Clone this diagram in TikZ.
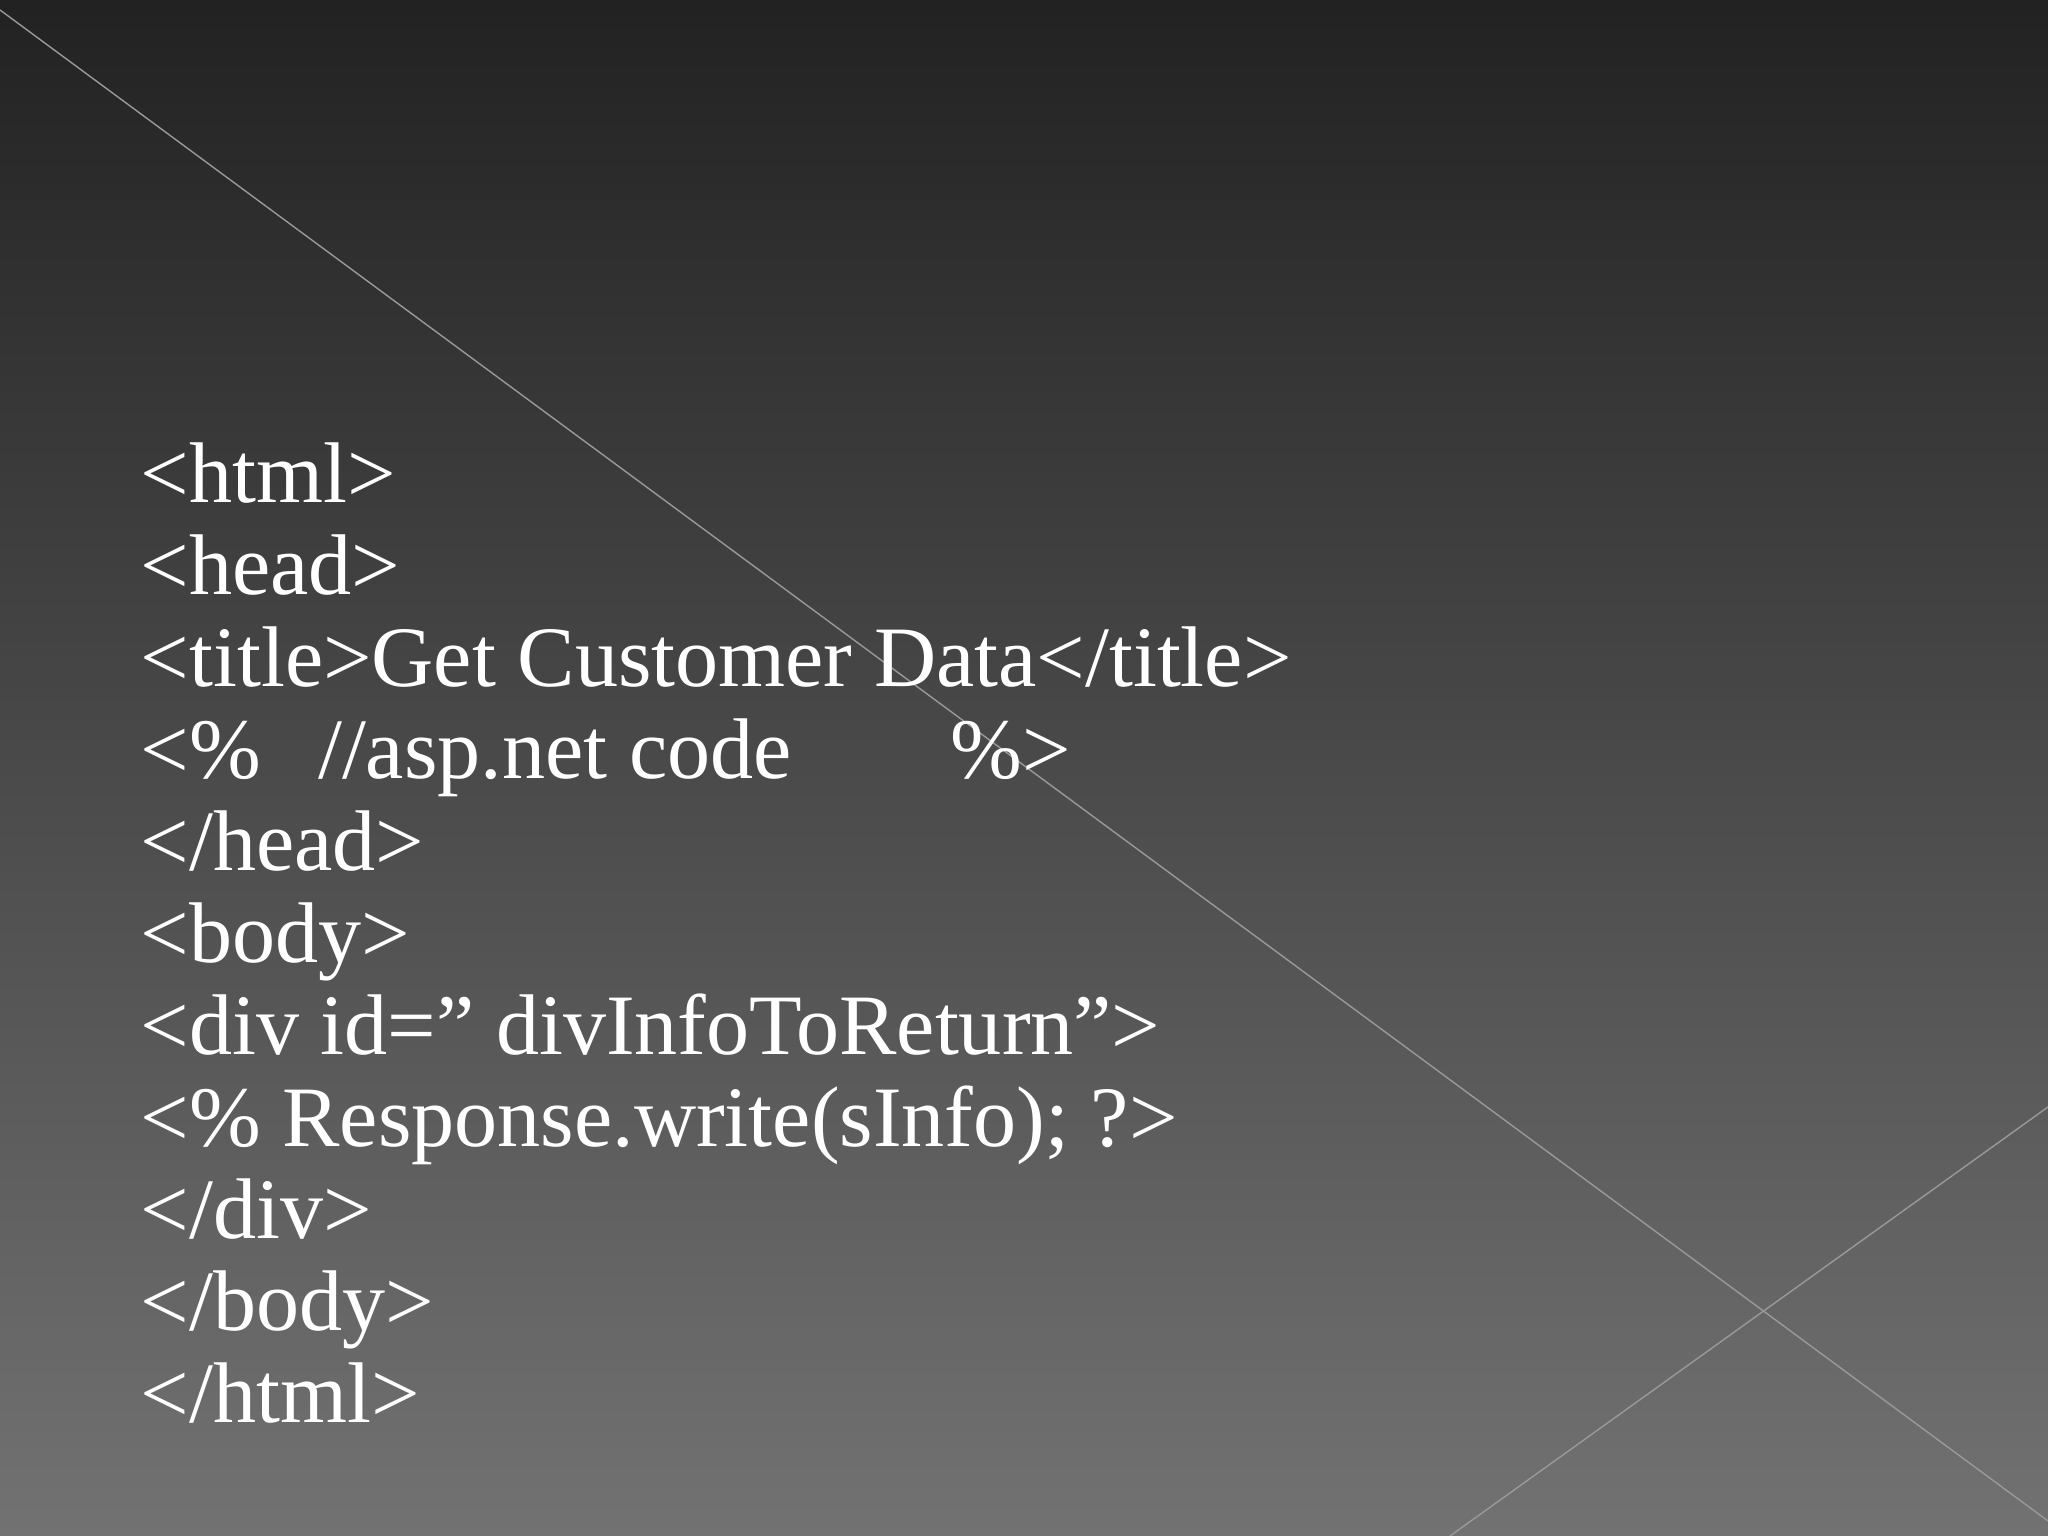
\documentclass[tikz,border=0pt]{standalone}
\usepackage{fontspec}
\setmainfont{Liberation Serif}
\begin{document}
\begin{tikzpicture}[code/.style={anchor=base west,text=white,inner sep=0pt,font=\fontsize{24.5}{30}\selectfont}]
\useasboundingbox (0,0) rectangle (20.48,15.36);
\shade[top color={rgb,255:red,34;green,34;blue,34},bottom color={rgb,255:red,114;green,114;blue,114}] (0,0) rectangle (20.48,15.36);
\draw[line width=0.4pt,color=gray!80] (0,15.26) -- (20.48,0.15);
\draw[line width=0.4pt,color=gray!80] (14.50,0) -- (20.48,4.29);
\def\lx{1.40}
\node[code] (l1) at (\lx,{15.36-0.01306*385}) {<html>};
\node[code] (l2) at (\lx,{15.36-0.01306*455.4}) {<head>};
\node[code] (l3) at (\lx,{15.36-0.01306*525.8}) {<title>Get Customer Data</title>};
\node[code] (l4a) at (\lx,{15.36-0.01306*596.2}) {<\%};
\node[code] (l4b) at ({0.01306*243},{15.36-0.01306*596.2}) {//asp.net code};
\node[code] (l4c) at ({0.01306*727},{15.36-0.01306*596.2}) {\%>};
\node[code] (l5) at (\lx,{15.36-0.01306*666.6}) {</head>};
\node[code] (l6) at (\lx,{15.36-0.01306*737}) {<body>};
\node[code] (l7) at (\lx,{15.36-0.01306*807.4}) {<div id=\symbol{34} divInfoToReturn\symbol{34}>};
\node[code] (l8) at (\lx,{15.36-0.01306*877.8}) {<\% Response.write(sInfo); ?>};
\node[code] (l9) at (\lx,{15.36-0.01306*948.2}) {</div>};
\node[code] (l10) at (\lx,{15.36-0.01306*1018.6}) {</body>};
\node[code] (l11) at (\lx,{15.36-0.01306*1089}) {</html>};
\end{tikzpicture}
\end{document}
